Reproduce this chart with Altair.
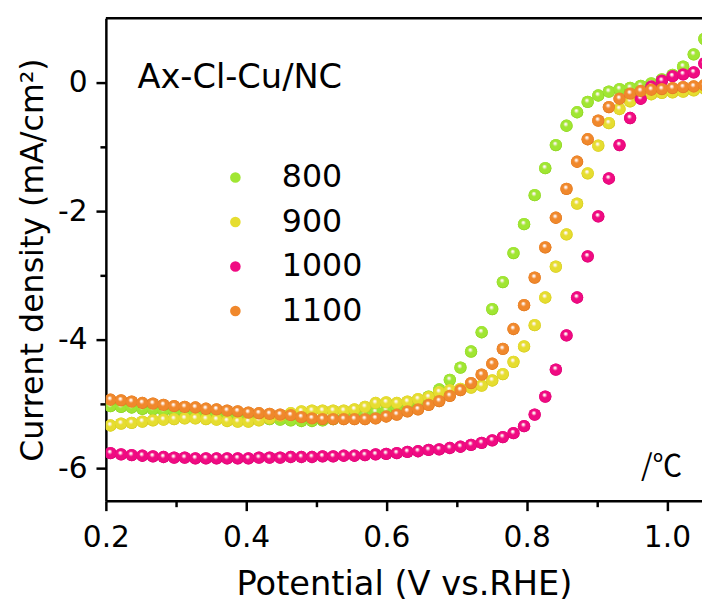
import altair as alt
import pandas as pd

# ---------------- data ----------------
potential = [0.2066, 0.2217, 0.2368, 0.2520, 0.2671, 0.2822, 0.2973, 0.3124, 0.3276, 0.3427,
             0.3578, 0.3729, 0.3880, 0.4032, 0.4183, 0.4334, 0.4485, 0.4636, 0.4788, 0.4939,
             0.5090, 0.5241, 0.5392, 0.5544, 0.5695, 0.5846, 0.5997, 0.6148, 0.6300, 0.6451,
             0.6602, 0.6753, 0.6904, 0.7056, 0.7207, 0.7358, 0.7509, 0.7660, 0.7812, 0.7963,
             0.8114, 0.8265, 0.8416, 0.8568, 0.8719, 0.8870, 0.9021, 0.9172, 0.9324, 0.9475,
             0.9626, 0.9777, 0.9928, 1.0080, 1.0231, 1.0382, 1.0533]

j_800 = [-5.03, -5.04, -5.05, -5.07, -5.08, -5.10, -5.11, -5.13, -5.14, -5.16,
         -5.17, -5.19, -5.20, -5.21, -5.22, -5.23, -5.24, -5.25, -5.26, -5.26,
         -5.25, -5.23, -5.21, -5.18, -5.15, -5.12, -5.09, -5.06, -5.02, -4.96,
         -4.88, -4.77, -4.62, -4.43, -4.18, -3.88, -3.52, -3.10, -2.65, -2.20,
         -1.75, -1.33, -0.97, -0.67, -0.46, -0.30, -0.20, -0.14, -0.10, -0.08,
         -0.05, -0.01, 0.05, 0.12, 0.25, 0.44, 0.68]

j_900 = [-5.33, -5.30, -5.29, -5.27, -5.25, -5.24, -5.23, -5.22, -5.22, -5.23,
         -5.24, -5.26, -5.27, -5.27, -5.25, -5.22, -5.18, -5.14, -5.11, -5.10,
         -5.10, -5.10, -5.10, -5.08, -5.04, -4.98, -4.97, -4.98, -4.96, -4.92,
         -4.89, -4.81, -4.78, -4.76, -4.74, -4.71, -4.63, -4.53, -4.34, -4.10,
         -3.77, -3.34, -2.86, -2.36, -1.88, -1.41, -0.98, -0.63, -0.41, -0.29,
         -0.22, -0.18, -0.16, -0.15, -0.14, -0.12, -0.09]

j_1000 = [-5.76, -5.78, -5.79, -5.80, -5.81, -5.82, -5.83, -5.83, -5.84, -5.84,
          -5.84, -5.84, -5.84, -5.84, -5.83, -5.83, -5.83, -5.82, -5.82, -5.82,
          -5.81, -5.81, -5.80, -5.80, -5.79, -5.78, -5.77, -5.76, -5.74, -5.73,
          -5.71, -5.70, -5.68, -5.66, -5.63, -5.60, -5.56, -5.51, -5.45, -5.34,
          -5.16, -4.88, -4.46, -3.93, -3.34, -2.70, -2.08, -1.49, -0.97, -0.55,
          -0.25, -0.06, 0.03, 0.10, 0.13, 0.16, 0.30]

j_1100 = [-4.93, -4.94, -4.96, -4.98, -4.99, -5.01, -5.03, -5.04, -5.05, -5.07,
          -5.08, -5.10, -5.11, -5.13, -5.14, -5.15, -5.16, -5.17, -5.20, -5.22,
          -5.23, -5.23, -5.23, -5.23, -5.23, -5.22, -5.19, -5.16, -5.11, -5.08,
          -5.01, -4.95, -4.87, -4.78, -4.67, -4.54, -4.37, -4.14, -3.83, -3.46,
          -3.03, -2.56, -2.10, -1.65, -1.23, -0.88, -0.59, -0.38, -0.25, -0.17,
          -0.13, -0.11, -0.10, -0.085, -0.07, -0.06, -0.04]

series_names = ["800", "900", "1000", "1100"]
series_colors = ["#a0e632", "#e6dd30", "#f00a82", "#f0882c"]
series_dark = ["#78b818", "#bdb314", "#c00064", "#c86410"]

x_ticks = [0.2, 0.3, 0.4, 0.5, 0.6, 0.7, 0.8, 0.9, 1.0]
y_ticks = [-6, -5, -4, -3, -2, -1, 0]

label_text = ["Ax-Cl-Cu/NC"]
unit_text = ["/℃"]

# ---------------- table ----------------
rows = []
for name, ys in zip(series_names, [j_800, j_900, j_1000, j_1100]):
    for xv, yv in zip(potential, ys):
        rows.append({"potential": xv, "current": yv, "sample": name})
df = pd.DataFrame(rows)

W, H = 603, 488
FONT = "DejaVu Sans"
DOT = 155

xscale = alt.Scale(domain=[0.2, 1.05], nice=False, zero=False)
yscale = alt.Scale(domain=[-6.5, 1.0], nice=False, zero=False)

xaxis = alt.Axis(
    values=x_ticks,
    title="Potential (V vs.RHE)",
    labelExpr="round(datum.value*10) % 2 === 0 ? format(datum.value, '.1f') : ''",
    tickSize={"condition": {"test": "round(datum.value*10) % 2 === 0", "value": 10}, "value": 6},
    labelPadding=12,
    titlePadding=16,
    titleFontSize=34,
    labelFlush=False,
    labelOverlap=False,
)
yaxis = alt.Axis(
    values=y_ticks,
    title="Current density (mA/cm²)",
    labelExpr="datum.value % 2 === 0 ? ('' + datum.value) : ''",
    tickSize={"condition": {"test": "datum.value % 2 === 0", "value": 10}, "value": 6},
    labelPadding=9,
    titlePadding=8,
    labelFlush=False,
    labelOverlap=False,
)

base = alt.Chart(df).mark_circle(size=DOT, opacity=1, clip=True).encode(
    x=alt.X("potential:Q", scale=xscale, axis=xaxis),
    y=alt.Y("current:Q", scale=yscale, axis=yaxis),
    color=alt.Color(
        "sample:N",
        scale=alt.Scale(domain=series_names, range=series_colors),
        legend=alt.Legend(
            orient="none", legendX=115, legendY=145, title=None,
            labelFont=FONT, labelFontSize=32, labelColor="black",
            symbolType="circle", symbolSize=115, symbolStrokeWidth=0,
            symbolOpacity=1, labelOffset=31, rowPadding=13, padding=0,
        ),
    ),
)

layers = [base]
for name, c, d in zip(series_names, series_colors, series_dark):
    grad = {
        "gradient": "radial",
        "x1": 0.42, "y1": 0.34, "r1": 0.0,
        "x2": 0.5, "y2": 0.5, "r2": 0.55,
        "stops": [
            {"offset": 0.0, "color": "#ffffff"},
            {"offset": 0.12, "color": "#fff4f0"},
            {"offset": 0.38, "color": c},
            {"offset": 0.82, "color": c},
            {"offset": 1.0, "color": d},
        ],
    }
    layers.append(
        alt.Chart(df).transform_filter(alt.datum.sample == name)
        .mark_circle(size=DOT, fill=grad, opacity=1, clip=True)
        .encode(x=alt.X("potential:Q", scale=xscale), y=alt.Y("current:Q", scale=yscale))
    )

ann1 = alt.Chart(pd.DataFrame({"x": [0.245], "y": [-0.09], "t": label_text})).mark_text(
    align="left", baseline="alphabetic", font=FONT, fontSize=34, color="black"
).encode(x=alt.X("x:Q", scale=xscale), y=alt.Y("y:Q", scale=yscale), text="t:N")

ann2 = alt.Chart(pd.DataFrame({"x": [0.963], "y": [-6.12], "t": unit_text})).mark_text(
    align="left", baseline="alphabetic", font="Noto Sans CJK SC", fontSize=30, color="black"
).encode(x=alt.X("x:Q", scale=xscale), y=alt.Y("y:Q", scale=yscale), text="t:N")

top_spine = alt.Chart(pd.DataFrame({"a": [0]})).mark_rule(color="black", strokeWidth=2.5).encode(
    x=alt.value(0), x2=alt.value(W), y=alt.value(0)
)

chart = alt.layer(*layers, ann1, ann2, top_spine).properties(
    width=W, height=H,
    autosize=alt.AutoSizeParams(type="none"),
    padding={"left": 99, "top": 7, "right": 0, "bottom": 102},
).configure_view(stroke=None).configure_axis(
    grid=False, domainColor="black", domainWidth=2.5, tickColor="black", tickWidth=2.5,
    labelFont=FONT, labelFontSize=30, labelColor="black",
    titleFont=FONT, titleFontSize=32, titleFontWeight="normal", titleColor="black",
)

chart.save("out.html", embed_options={"renderer": "svg", "actions": False})
